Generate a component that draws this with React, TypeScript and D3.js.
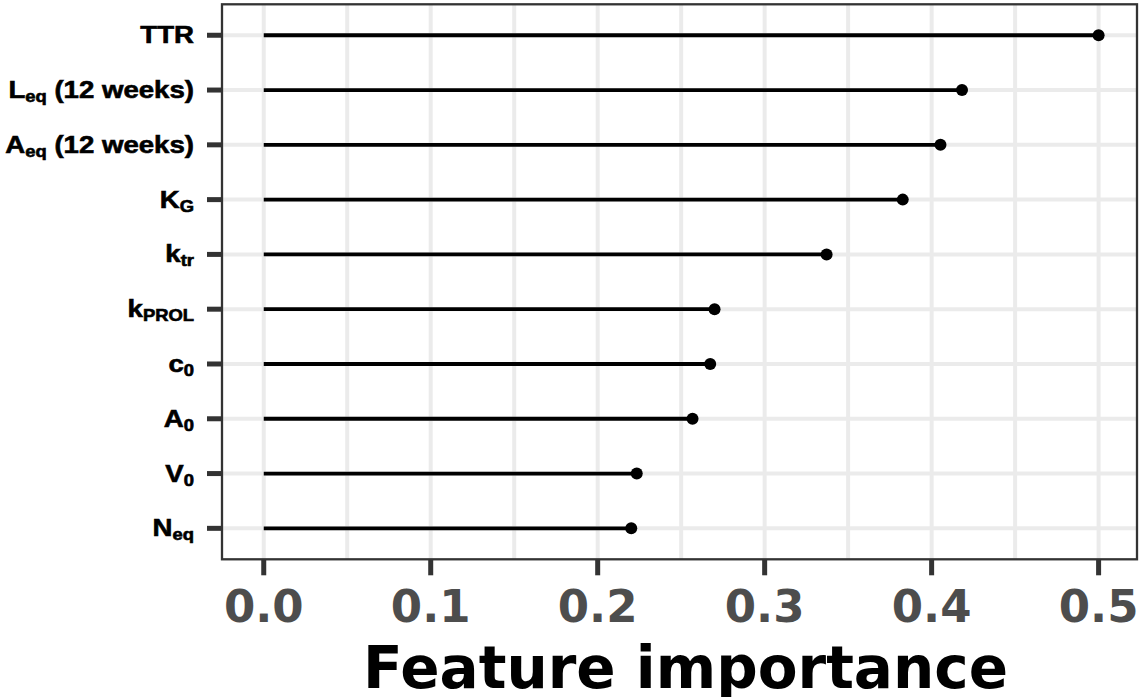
import * as React from 'react';
import * as d3 from 'd3';

// feature names (top to bottom) and their importance
const features = ['TTR', 'Leq (12 weeks)', 'Aeq (12 weeks)', 'KG', 'ktr', 'kPROL', 'c0', 'A0', 'V0', 'Neq'];
const importance = [0.5, 0.4182, 0.4053, 0.3827, 0.3371, 0.27, 0.2674, 0.2568, 0.2234, 0.2201];
// label pieces: main text, subscript, trailing text
const labelMain = ['TTR', 'L', 'A', 'K', 'k', 'k', 'c', 'A', 'V', 'N'];
const labelSub = ['', 'eq', 'eq', 'G', 'tr', 'PROL', '0', '0', '0', 'eq'];
const labelTail = ['', ' (12 weeks)', ' (12 weeks)', '', '', '', '', '', '', ''];
const xTicks = [0, 0.1, 0.2, 0.3, 0.4, 0.5];
const xGrid = d3.range(0, 0.5001, 0.05);

const width = 1145;
const height = 697;

export default function App() {
  const svgRef = React.useRef<SVGSVGElement>(null);

  React.useEffect(() => {
    if (!svgRef.current) return;
    const svg = d3.select(svgRef.current);
    svg.selectAll('*').remove();

    const panel = { left: 222, right: 1137, top: 4.3, bottom: 559.3 };

    const x = d3.scaleLinear().domain([-0.025, 0.523]).range([panel.left, panel.right]);
    const y = d3.scalePoint<string>().domain(features).range([panel.top, panel.bottom]).padding(0.565);

    svg.append('rect').attr('width', width).attr('height', height).attr('fill', '#fff');

    // grid
    svg
      .append('g')
      .selectAll('line')
      .data(xGrid)
      .enter()
      .append('line')
      .attr('x1', (d) => x(d))
      .attr('x2', (d) => x(d))
      .attr('y1', panel.top)
      .attr('y2', panel.bottom)
      .attr('stroke', '#ebebeb')
      .attr('stroke-width', 4);
    svg
      .append('g')
      .selectAll('line')
      .data(features)
      .enter()
      .append('line')
      .attr('x1', panel.left)
      .attr('x2', panel.right)
      .attr('y1', (d) => y(d)!)
      .attr('y2', (d) => y(d)!)
      .attr('stroke', '#ebebeb')
      .attr('stroke-width', 4);

    // lollipops
    const pts = features.map((f, i) => ({ f, v: importance[i] }));
    svg
      .append('g')
      .selectAll('line')
      .data(pts)
      .enter()
      .append('line')
      .attr('x1', x(0))
      .attr('x2', (d) => x(d.v))
      .attr('y1', (d) => y(d.f)!)
      .attr('y2', (d) => y(d.f)!)
      .attr('stroke', '#000')
      .attr('stroke-width', 3.8);
    svg
      .append('g')
      .selectAll('circle')
      .data(pts)
      .enter()
      .append('circle')
      .attr('cx', (d) => x(d.v))
      .attr('cy', (d) => y(d.f)!)
      .attr('r', 6)
      .attr('fill', '#000');

    // panel border
    svg
      .append('rect')
      .attr('x', panel.left)
      .attr('y', panel.top)
      .attr('width', panel.right - panel.left)
      .attr('height', panel.bottom - panel.top)
      .attr('fill', 'none')
      .attr('stroke', '#333')
      .attr('stroke-width', 2.3);

    // y ticks + labels
    const yAxis = svg.append('g');
    yAxis
      .selectAll('line')
      .data(features)
      .enter()
      .append('line')
      .attr('x1', panel.left - 15)
      .attr('x2', panel.left)
      .attr('y1', (d) => y(d)!)
      .attr('y2', (d) => y(d)!)
      .attr('stroke', '#333')
      .attr('stroke-width', 5);
    const labels = yAxis
      .selectAll('g.lab')
      .data(features)
      .enter()
      .append('g')
      .attr('class', 'lab')
      .attr('transform', (d) => `translate(194, ${y(d)! + 8}) scale(1.15, 1)`)
      .append('text')
      .attr('text-anchor', 'end')
      .attr('font-family', '"Liberation Sans", Arial, sans-serif')
      .attr('font-weight', 'bold')
      .attr('font-size', 24)
      .attr('fill', '#000')
      .attr('stroke', '#000')
      .attr('stroke-width', 0.6);
    labels.each(function (_, i) {
      const t = d3.select(this);
      t.append('tspan').text(labelMain[i]);
      if (labelSub[i]) {
        t.append('tspan').attr('font-size', 16).attr('dy', 4).text(labelSub[i]);
      }
      if (labelTail[i]) {
        t.append('tspan').attr('dy', -4).text(labelTail[i]);
      }
    });

    // x ticks + labels
    const xAxis = svg.append('g');
    xAxis
      .selectAll('line')
      .data(xTicks)
      .enter()
      .append('line')
      .attr('x1', (d) => x(d))
      .attr('x2', (d) => x(d))
      .attr('y1', panel.bottom)
      .attr('y2', panel.bottom + 16)
      .attr('stroke', '#333')
      .attr('stroke-width', 5);
    xAxis
      .selectAll('text')
      .data(xTicks)
      .enter()
      .append('text')
      .attr('x', (d) => x(d))
      .attr('y', 621.7)
      .attr('text-anchor', 'middle')
      .attr('font-family', '"DejaVu Sans", sans-serif')
      .attr('font-weight', 'bold')
      .attr('font-size', 45)
      .attr('fill', '#4d4d4d')
      .text((d) => d3.format('.1f')(d));

    svg
      .append('text')
      .attr('x', (panel.left + panel.right) / 2 + 6)
      .attr('y', 688)
      .attr('text-anchor', 'middle')
      .attr('font-family', '"DejaVu Sans", sans-serif')
      .attr('font-weight', 'bold')
      .attr('font-size', 58)
      .attr('fill', '#000')
      .text('Feature importance');
  }, []);

  return (
    <svg
      ref={svgRef}
      width={width}
      height={height}
      style={{ position: 'absolute', left: 0, top: 0, display: 'block' }}
    />
  );
}
